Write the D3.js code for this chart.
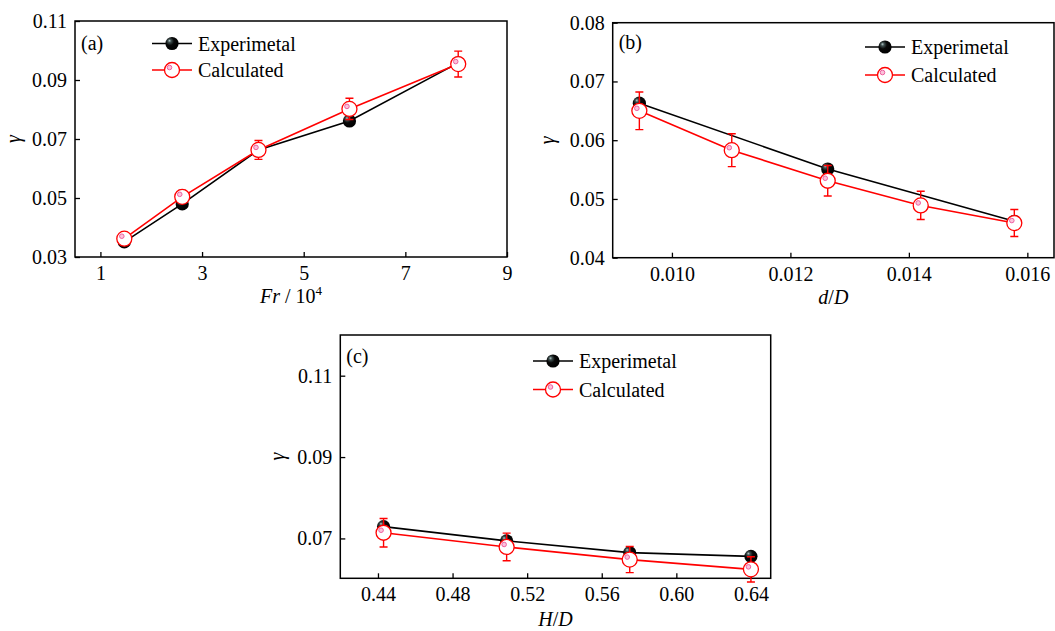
<!DOCTYPE html>
<html>
<head>
<meta charset="utf-8">
<script src="https://cdn.jsdelivr.net/npm/d3@7"></script>
<style>
  body { margin: 0; background: #fff; }
  svg text { font-family: "Liberation Serif", "Times New Roman", serif; }
</style>
</head>
<body>
<div id="chart"></div>
<script>
// (a) gamma vs Fr / 10^4
var frX = [1.47, 2.61, 4.11, 5.9, 8.04];
var frExp = [0.0351, 0.048, 0.0663, 0.0761, 0.0958];
var frCalc = [0.0362, 0.0504, 0.0663, 0.0802, 0.0954];
var frErr = [0.001, 0.0022, 0.0032, 0.0036, 0.0044];
var frXTicks = [1, 3, 5, 7, 9];
var frYTicks = [0.03, 0.05, 0.07, 0.09, 0.11];

// (b) gamma vs d/D
var dX = [0.00945, 0.01101, 0.01263, 0.0142, 0.01578];
var dExpX = [0.00945, 0.01263, 0.01578];
var dExp = [0.0663, 0.0551, 0.0462];
var dCalc = [0.065, 0.0583, 0.0531, 0.0489, 0.0459];
var dErr = [0.0032, 0.0028, 0.0026, 0.0024, 0.0023];
var dXTicks = [0.010, 0.012, 0.014, 0.016];
var dYTicks = [0.04, 0.05, 0.06, 0.07, 0.08];

// (c) gamma vs H/D
var hX = [0.443, 0.509, 0.575, 0.640];
var hExp = [0.0729, 0.0694, 0.0665, 0.0656];
var hCalc = [0.0714, 0.0679, 0.0648, 0.0624];
var hErr = [0.0035, 0.0034, 0.0032, 0.0031];
var hXTicks = [0.44, 0.48, 0.52, 0.56, 0.60, 0.64];
var hYTicks = [0.07, 0.09, 0.11];

var seriesNames = ["Experimetal", "Calculated"];

var svg = d3.select("#chart")
  .append("svg")
  .attr("width", 1055)
  .attr("height", 631);

// sphere look for the experimental markers
var grad = svg.append("defs").append("radialGradient")
  .attr("id", "sphere")
  .attr("cx", "38%").attr("cy", "38%").attr("r", "62%")
  .attr("fx", "30%").attr("fy", "28%");
grad.append("stop").attr("offset", "0%").attr("stop-color", "#b8cccc");
grad.append("stop").attr("offset", "20%").attr("stop-color", "#3f4f4f");
grad.append("stop").attr("offset", "50%").attr("stop-color", "#080808");
grad.append("stop").attr("offset", "100%").attr("stop-color", "#000");

function expMarker(sel, cx, cy) {
  sel.append("circle")
    .attr("cx", cx).attr("cy", cy).attr("r", 6.6)
    .attr("fill", "url(#sphere)");
}

function calcMarker(sel, cx, cy) {
  sel.append("circle")
    .attr("cx", cx).attr("cy", cy).attr("r", 7.5)
    .attr("fill", "#fff")
    .attr("stroke", "#ff0000")
    .attr("stroke-width", 1.3);
  sel.append("circle")
    .attr("cx", cx - 2.5).attr("cy", cy - 2.5).attr("r", 2.3)
    .attr("fill", "#fbc2da")
    .attr("stroke", "#ef5fa0")
    .attr("stroke-width", 1);
}

function drawPanel(p) {
  var x = d3.scaleLinear().domain(p.xDomain).range([p.left, p.right]);
  var y = d3.scaleLinear().domain(p.yDomain).range([p.bottom, p.top]);
  var g = svg.append("g");

  var xAxis = g.append("g")
    .attr("transform", `translate(0, ${p.bottom})`)
    .call(d3.axisBottom(x).tickValues(p.xTicks).tickFormat(d3.format(p.xFmt))
      .tickSizeInner(-5).tickSizeOuter(0).tickPadding(9));
  var yAxis = g.append("g")
    .attr("transform", `translate(${p.left}, 0)`)
    .call(d3.axisLeft(y).tickValues(p.yTicks).tickFormat(d3.format(".2f"))
      .tickSizeInner(-5).tickSizeOuter(0).tickPadding(8));
  [xAxis, yAxis].forEach(function(a) {
    a.select(".domain").remove();
    a.selectAll(".tick line").attr("stroke", "#000").attr("stroke-width", 1.3);
    a.selectAll(".tick text").attr("font-size", 20).attr("fill", "#000");
  });

  // frame
  g.append("rect")
    .attr("x", p.left).attr("y", p.top)
    .attr("width", p.right - p.left).attr("height", p.bottom - p.top)
    .attr("fill", "none").attr("stroke", "#000").attr("stroke-width", 1.5);

  var line = d3.line().x(d => x(d[0])).y(d => y(d[1]));
  var expPts = d3.zip(p.expX, p.exp);
  var calcPts = d3.zip(p.calcX, p.calc, p.err);

  g.append("path").datum(expPts).attr("d", line)
    .attr("fill", "none").attr("stroke", "#000").attr("stroke-width", 1.6);
  expPts.forEach(d => expMarker(g, x(d[0]), y(d[1])));

  g.append("path").datum(calcPts).attr("d", line)
    .attr("fill", "none").attr("stroke", "#ff0000").attr("stroke-width", 1.6);

  // error bars
  calcPts.forEach(function(d) {
    var cx = x(d[0]), y0 = y(d[1] - d[2]), y1 = y(d[1] + d[2]);
    g.append("path")
      .attr("d", `M${cx},${y0}V${y1}M${cx - 4},${y0}H${cx + 4}M${cx - 4},${y1}H${cx + 4}`)
      .attr("fill", "none").attr("stroke", "#ff0000").attr("stroke-width", 1.4);
  });
  calcPts.forEach(d => calcMarker(g, x(d[0]), y(d[1])));

  // panel tag
  g.append("text").attr("x", p.left + 6).attr("y", p.tagY)
    .attr("font-size", 20).text(p.tag);

  // legend
  var lg = p.legend;
  [0, 1].forEach(function(i) {
    var ly = lg.y + i * lg.dy;
    g.append("line")
      .attr("x1", lg.x).attr("x2", lg.x + 40).attr("y1", ly).attr("y2", ly)
      .attr("stroke", i === 0 ? "#000" : "#ff0000").attr("stroke-width", 1.6);
    if (i === 0) expMarker(g, lg.x + 20, ly); else calcMarker(g, lg.x + 20, ly);
    g.append("text").attr("x", lg.x + 46).attr("y", ly + 7)
      .attr("font-size", 20).text(seriesNames[i]);
  });

  // y title
  g.append("text")
    .attr("transform", `translate(${p.yTitleX}, ${(p.top + p.bottom) / 2}) rotate(-90)`)
    .attr("text-anchor", "middle")
    .attr("font-size", 20).attr("font-style", "italic")
    .text("γ");

  // x title
  var t = g.append("text")
    .attr("x", (p.left + p.right) / 2).attr("y", p.xTitleY)
    .attr("text-anchor", "middle").attr("font-size", 20);
  p.xTitle.forEach(function(part) {
    var s = t.append("tspan").text(part.t);
    if (part.i) s.attr("font-style", "italic");
    if (part.sup) s.attr("font-size", 13).attr("dy", -8);
  });
}

drawPanel({
  left: 75, right: 507, top: 21, bottom: 257,
  xDomain: [0.5, 9], yDomain: [0.03, 0.11],
  xTicks: frXTicks, yTicks: frYTicks, xFmt: "d",
  expX: frX, exp: frExp, calcX: frX, calc: frCalc, err: frErr,
  tag: "(a)", tagY: 50,
  legend: { x: 152, y: 43.5, dy: 26.5 },
  yTitleX: 20, xTitleY: 303,
  xTitle: [{ t: "Fr", i: true }, { t: " / 10" }, { t: "4", sup: true }]
});

drawPanel({
  left: 612.7, right: 1054, top: 22.7, bottom: 257.7,
  xDomain: [0.009, 0.01645], yDomain: [0.04, 0.08],
  xTicks: dXTicks, yTicks: dYTicks, xFmt: ".3f",
  expX: dExpX, exp: dExp, calcX: dX, calc: dCalc, err: dErr,
  tag: "(b)", tagY: 49,
  legend: { x: 865, y: 47, dy: 28 },
  yTitleX: 554, xTitleY: 304,
  xTitle: [{ t: "d", i: true }, { t: "/" }, { t: "D", i: true }]
});

drawPanel({
  left: 340.3, right: 770.7, top: 335, bottom: 578.3,
  xDomain: [0.4198, 0.6506], yDomain: [0.0602, 0.12],
  xTicks: hXTicks, yTicks: hYTicks, xFmt: ".2f",
  expX: hX, exp: hExp, calcX: hX, calc: hCalc, err: hErr,
  tag: "(c)", tagY: 363,
  legend: { x: 533, y: 361, dy: 28.5 },
  yTitleX: 284, xTitleY: 626,
  xTitle: [{ t: "H", i: true }, { t: "/" }, { t: "D", i: true }]
});
</script>
</body>
</html>
